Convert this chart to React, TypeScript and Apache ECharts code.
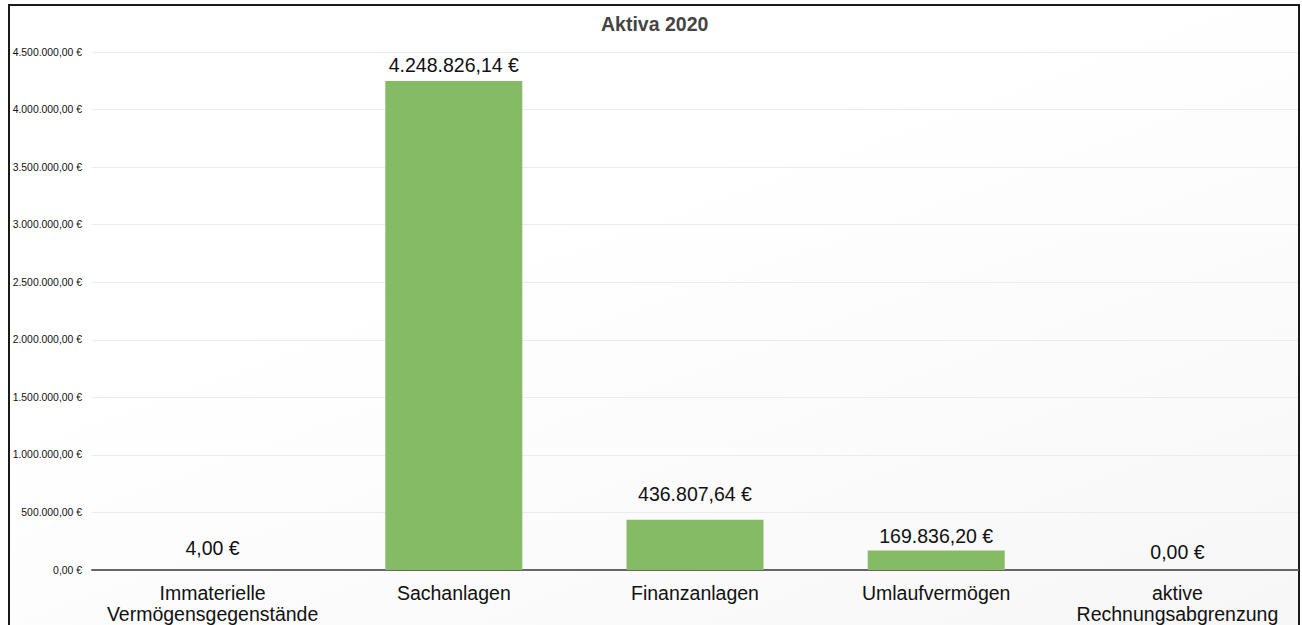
import React, { useEffect, useRef } from "react";
import * as echarts from "echarts";

const categories = [
  "Immaterielle\nVermögensgegenstände",
  "Sachanlagen",
  "Finanzanlagen",
  "Umlaufvermögen",
  "aktive\nRechnungsabgrenzung",
];
const values = [4.0, 4248826.14, 436807.64, 169836.2, 0.0];
const labelDistances = [12, 6, 16, 4.5, 8.5];
const titleText = "Aktiva 2020";
const yMin = 0;
const yMax = 4500000;
const yInterval = 500000;

function toDE(v: number): string {
  const parts = v.toFixed(2).split(".");
  const intPart = parts[0].replace(/\B(?=(\d{3})+(?!\d))/g, ".");
  return intPart + "," + parts[1] + " €";
}

const FONT = "Liberation Sans, Arial, sans-serif";

export default function App() {
  const ref = useRef<HTMLDivElement>(null);
  useEffect(() => {
    if (!ref.current) return;
    const chart = echarts.init(ref.current, undefined, { renderer: "svg" });
    chart.setOption({
      animation: false,
      backgroundColor: "transparent",
      textStyle: { fontFamily: FONT },
      title: {
        text: titleText,
        left: 596,
        top: 9,
        textStyle: {
          fontSize: 19.5,
          fontWeight: "bold",
          color: "#444444",
          fontFamily: FONT,
        },
      },
      grid: { left: 92, right: 4, top: 52, bottom: 55, containLabel: false },
      xAxis: {
        type: "category",
        data: categories,
        axisLine: { show: true, lineStyle: { color: "#666666", width: 2 } },
        axisTick: { show: false },
        axisLabel: {
          interval: 0,
          fontSize: 19.5,
          color: "#111111",
          margin: 12.5,
          lineHeight: 21,
          fontFamily: FONT,
        },
      },
      yAxis: {
        type: "value",
        min: yMin,
        max: yMax,
        interval: yInterval,
        axisLine: { show: false },
        axisTick: { show: false },
        splitLine: { lineStyle: { color: "#ececec", width: 1 } },
        axisLabel: {
          fontSize: 10.4,
          color: "#111111",
          margin: 10,
          formatter: (v: number) => toDE(v),
          fontFamily: FONT,
        },
      },
      series: [
        {
          type: "bar",
          barWidth: 137,
          data: values.map((v, i) => ({
            value: v,
            label: { distance: labelDistances[i] },
          })),
          itemStyle: { color: "#85bb64" },
          label: {
            show: true,
            position: "top",
            fontSize: 19.5,
            color: "#111111",
            fontFamily: FONT,
            formatter: (p: any) => toDE(p.value),
          },
        },
      ],
    });
    return () => chart.dispose();
  }, []);

  return (
    <div
      style={{
        position: "fixed",
        left: 0,
        top: 0,
        width: 1302,
        height: 625,
        overflow: "hidden",
        background: "#ffffff",
      }}
    >
      <div
        style={{
          position: "absolute",
          left: 8,
          top: 4,
          width: 1292,
          height: 700,
          boxSizing: "border-box",
          border: "2px solid #1a1a1a",
          background: "linear-gradient(160deg, #ffffff 0%, #ffffff 35%, #f6f6f6 100%)",
        }}
      />
      <div
        ref={ref}
        style={{ position: "absolute", left: 0, top: 0, width: 1302, height: 625 }}
      />
    </div>
  );
}
